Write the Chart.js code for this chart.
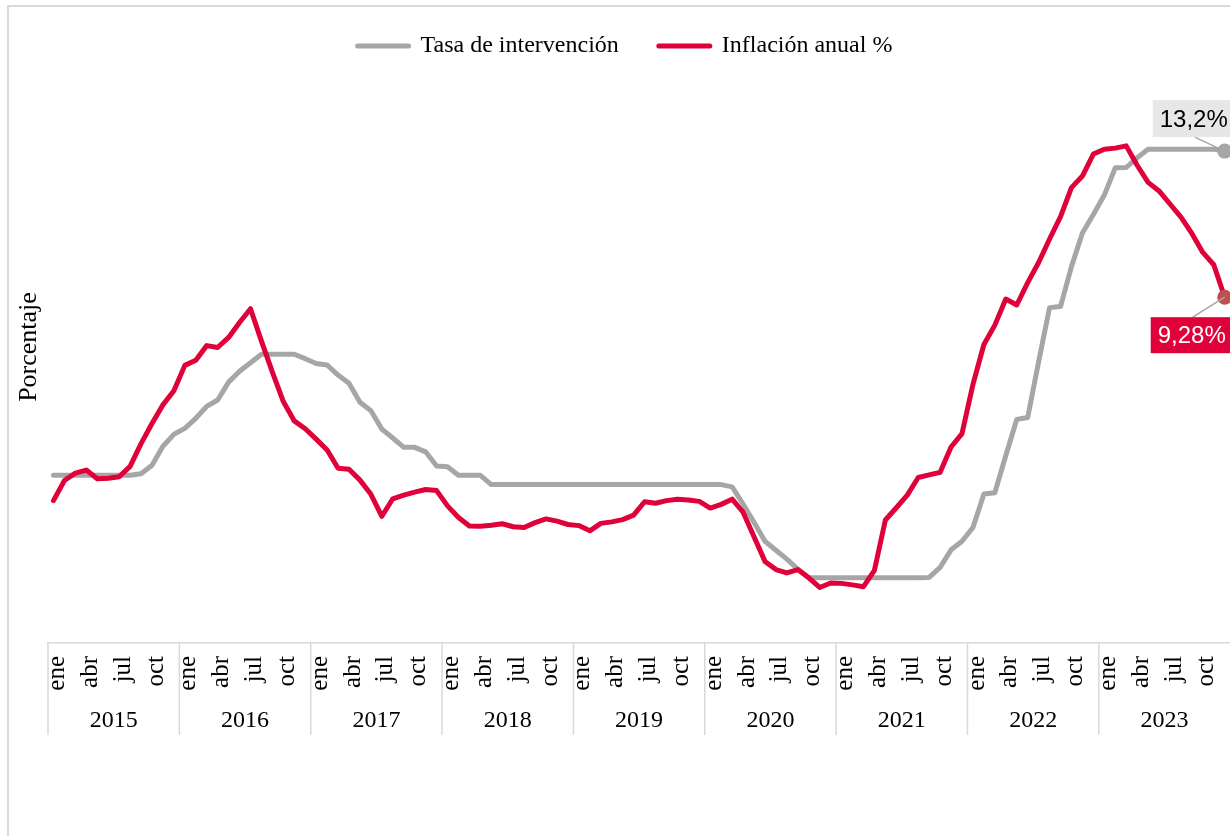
<!DOCTYPE html>
<html>
<head>
<meta charset="utf-8">
<script src="https://cdn.jsdelivr.net/npm/chart.js@4.4.1/dist/chart.umd.min.js"></script>
<style>
  body { margin: 0; background: #fff; overflow: hidden; }
  #frame { position: absolute; left: 7px; top: 5px; width: 1300px; height: 900px;
           border-left: 2px solid #d9d9d9; border-top: 2px solid #d9d9d9; }
  #wrap { position: absolute; left: 0; top: 0; width: 1238px; height: 836px; }
</style>
</head>
<body>
<div id="frame"></div>
<div id="wrap"><canvas id="grafico" width="1238" height="836"></canvas></div>
<script>
const years = ['2015', '2016', '2017', '2018', '2019', '2020', '2021', '2022', '2023'];
const months = ['ene', 'feb', 'mar', 'abr', 'may', 'jun', 'jul', 'ago', 'sep', 'oct', 'nov', 'dic'];
const shownMonths = ['ene', 'abr', 'jul', 'oct'];

// Tasa de intervención (promedio mensual, %)
const tasaIntervencion = [
    4.50, 4.50, 4.50, 4.50, 4.50, 4.50, 4.50, 4.50, 4.54, 4.77, 5.28, 5.60,
    5.76, 6.03, 6.35, 6.52, 7.00, 7.29, 7.52, 7.75, 7.75, 7.75, 7.75, 7.63,
    7.50, 7.46, 7.19, 6.97, 6.46, 6.23, 5.74, 5.50, 5.25, 5.25, 5.13, 4.75,
    4.73, 4.50, 4.50, 4.50, 4.25, 4.25, 4.25, 4.25, 4.25, 4.25, 4.25, 4.25,
    4.25, 4.25, 4.25, 4.25, 4.25, 4.25, 4.25, 4.25, 4.25, 4.25, 4.25, 4.25,
    4.25, 4.25, 4.19, 3.73, 3.24, 2.73, 2.49, 2.25, 1.98, 1.75, 1.75, 1.75,
    1.75, 1.75, 1.75, 1.75, 1.75, 1.75, 1.75, 1.75, 1.76, 2.03, 2.50, 2.73,
    3.10, 4.00, 4.03, 5.03, 6.00, 6.05, 7.55, 9.00, 9.03, 10.10, 11.00, 11.50,
    12.02, 12.75, 12.76, 13.02, 13.25, 13.25, 13.25, 13.25, 13.25, 13.25, 13.25, 13.20
];

// Inflación anual (%)
const inflacionAnual = [
    3.82, 4.36, 4.56, 4.64, 4.41, 4.42, 4.46, 4.74, 5.35, 5.89, 6.39, 6.77,
    7.45, 7.59, 7.98, 7.93, 8.20, 8.60, 8.97, 8.10, 7.27, 6.48, 5.96, 5.75,
    5.47, 5.18, 4.69, 4.66, 4.37, 3.99, 3.40, 3.87, 3.97, 4.05, 4.12, 4.09,
    3.68, 3.37, 3.14, 3.13, 3.16, 3.20, 3.12, 3.10, 3.23, 3.33, 3.27, 3.18,
    3.15, 3.01, 3.21, 3.25, 3.31, 3.43, 3.79, 3.75, 3.82, 3.86, 3.84, 3.80,
    3.62, 3.72, 3.86, 3.51, 2.85, 2.19, 1.97, 1.88, 1.97, 1.75, 1.49, 1.61,
    1.60, 1.56, 1.51, 1.95, 3.30, 3.63, 3.97, 4.44, 4.51, 4.58, 5.26, 5.62,
    6.94, 8.01, 8.53, 9.23, 9.07, 9.67, 10.21, 10.84, 11.44, 12.22, 12.53, 13.12,
    13.25, 13.28, 13.34, 12.82, 12.36, 12.13, 11.78, 11.43, 10.99, 10.48, 10.15, 9.28
];

const endLabels = ['13,2%', '9,28%'];

const GRAY = '#a6a6a6';
const RED = '#e0003a';
const SERIF = "'Liberation Serif', 'Times New Roman', serif";
const SANS = "'Liberation Sans', Arial, sans-serif";

const labels = [];
years.forEach(() => months.forEach(m => labels.push(m)));
const last = labels.length - 1;

// year row + separators below the month labels, and the y title
const yearAxisPlugin = {
    id: 'yearAxis',
    afterDraw(chart) {
        const { ctx, chartArea } = chart;
        const x = chart.scales.x;
        const band = x.getPixelForValue(1) - x.getPixelForValue(0);
        ctx.save();
        ctx.strokeStyle = '#d9d9d9';
        ctx.lineWidth = 1.5;
        ctx.fillStyle = '#000';
        ctx.font = '24px ' + SERIF;
        ctx.textAlign = 'center';
        ctx.textBaseline = 'middle';
        years.forEach((yr, k) => {
            const start = x.getPixelForValue(k * 12) - band / 2;
            ctx.beginPath();
            ctx.moveTo(start, chartArea.bottom);
            ctx.lineTo(start, chartArea.bottom + 92);
            ctx.stroke();
            ctx.fillText(yr, start + band * 6, chartArea.bottom + 78);
        });

        ctx.translate(36, 347);
        ctx.rotate(-Math.PI / 2);
        ctx.font = '26px ' + SERIF;
        ctx.textBaseline = 'alphabetic';
        ctx.fillText('Porcentaje', 0, 0);
        ctx.restore();
    }
};

// callouts at the end of each series
const endLabelPlugin = {
    id: 'endLabels',
    afterDatasetsDraw(chart) {
        const { ctx } = chart;
        const gray = chart.getDatasetMeta(0).data[last];
        const red = chart.getDatasetMeta(1).data[last];
        ctx.save();
        ctx.strokeStyle = GRAY;
        ctx.lineWidth = 1.5;

        ctx.beginPath();
        ctx.moveTo(gray.x - 30, gray.y - 14);
        ctx.lineTo(gray.x, gray.y);
        ctx.stroke();
        ctx.fillStyle = '#e7e7e7';
        ctx.fillRect(gray.x - 72, gray.y - 51, 84, 37);

        ctx.beginPath();
        ctx.moveTo(red.x, red.y);
        ctx.lineTo(red.x - 32, red.y + 20);
        ctx.stroke();
        ctx.fillStyle = RED;
        ctx.fillRect(red.x - 74, red.y + 20, 86, 36);

        ctx.font = '24px ' + SANS;
        ctx.textAlign = 'center';
        ctx.textBaseline = 'middle';
        ctx.fillStyle = '#000';
        ctx.fillText(endLabels[0], gray.x - 31, gray.y - 31);
        ctx.fillStyle = '#fff';
        ctx.fillText(endLabels[1], red.x - 33, red.y + 39);
        ctx.restore();
    }
};

// only the last point is drawn; index 0 carries the legend line width
function endPoint(size) {
    return c => (c.dataIndex === last ? size : 0);
}
function legendWidth(c) {
    return c.dataIndex === last ? 0 : 5;
}

const ctx = document.getElementById('grafico').getContext('2d');
new Chart(ctx, {
    type: 'line',
    data: {
        labels,
        datasets: [{
            label: 'Tasa de intervención',
            data: tasaIntervencion,
            borderColor: GRAY,
            backgroundColor: GRAY,
            pointBackgroundColor: GRAY,
            pointBorderColor: GRAY,
            borderWidth: 5,
            pointRadius: endPoint(7.5),
            pointBorderWidth: legendWidth,
            order: 1
        }, {
            label: 'Inflación anual %',
            data: inflacionAnual,
            borderColor: RED,
            backgroundColor: RED,
            pointBackgroundColor: '#c0504d',
            pointBorderColor: RED,
            borderWidth: 5,
            pointRadius: endPoint(7.5),
            pointBorderWidth: legendWidth,
            order: 0
        }]
    },
    options: {
        responsive: false,
        animation: false,
        events: [],
        tension: 0,
        borderCapStyle: 'round',
        borderJoinStyle: 'round',
        layout: { padding: { left: 12, right: 0, top: -6, bottom: 98 } },
        plugins: {
            tooltip: { enabled: false },
            legend: {
                position: 'top',
                labels: {
                    usePointStyle: true,
                    pointStyle: 'line',
                    pointStyleWidth: 51,
                    padding: 40,
                    color: '#000',
                    font: { family: SERIF, size: 24 },
                    sort: (a, b) => a.datasetIndex - b.datasetIndex,
                    generateLabels: chart => {
                        const items = Chart.defaults.plugins.legend.labels.generateLabels(chart);
                        items.forEach(item => { item.lineCap = 'round'; });
                        return items;
                    }
                }
            }
        },
        scales: {
            x: {
                offset: true,
                grid: { display: false },
                border: { color: '#d9d9d9', width: 1.5 },
                ticks: {
                    autoSkip: false,
                    minRotation: 90,
                    maxRotation: 90,
                    padding: 5,
                    labelOffset: 4,
                    color: '#000',
                    font: { family: SERIF, size: 25 },
                    callback: function (value) {
                        const m = this.getLabelForValue(value);
                        return shownMonths.includes(m) ? m : null;
                    }
                },
                afterFit: scale => { scale.height = 95; }
            },
            y: {
                min: 0,
                max: 15.43,
                grid: { display: false },
                border: { display: false },
                ticks: { display: false },
                afterFit: scale => { scale.width = 36; }
            }
        }
    },
    plugins: [yearAxisPlugin, endLabelPlugin]
});
</script>
</body>
</html>
